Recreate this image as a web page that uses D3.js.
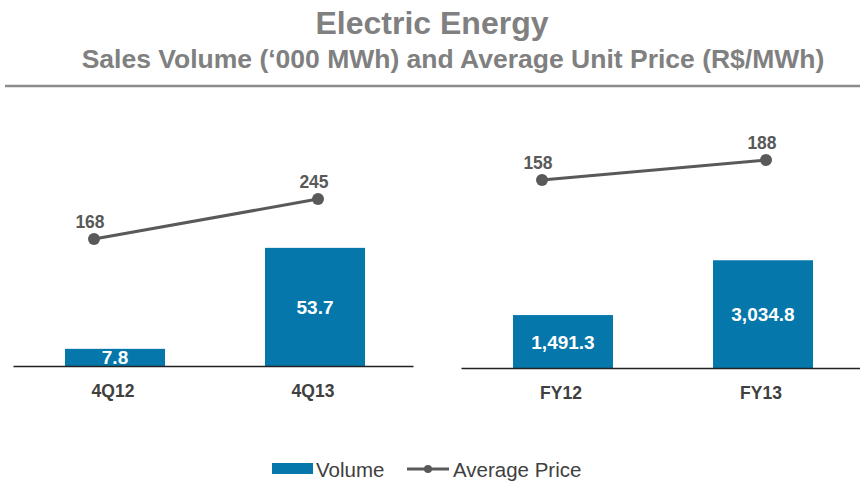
<!DOCTYPE html>
<html>
<head>
<meta charset="utf-8">
<script src="https://cdnjs.cloudflare.com/ajax/libs/d3/7.8.5/d3.min.js"></script>
<style>
  body { margin: 0; background: #fff; }
  svg { display: block; font-family: "Liberation Sans", Arial, sans-serif; }
</style>
</head>
<body>
<div class="plot"></div>
<script>
// quarter panel and full-year panel
let quarterCats = ["4Q12", "4Q13"]
let quarterVolume = [7.8, 53.7]
let quarterPrice = [168, 245]
let yearCats = ["FY12", "FY13"]
let yearVolume = [1491.3, 3034.8]
let yearPrice = [158, 188]

let W = 860, H = 482
let blue = "#0577ab", lineGrey = "#595959", textGrey = "#404040"

let svg = d3.select(".plot").append("svg")
    .attr("width", W)
    .attr("height", H)

// titles
svg.append("text")
    .attr("x", 432).attr("y", 34)
    .attr("text-anchor", "middle")
    .style("font-size", "32px").style("font-weight", "bold")
    .style("fill", "#808080")
    .text("Electric Energy")
svg.append("text")
    .attr("x", 453).attr("y", 68)
    .attr("text-anchor", "middle")
    .style("font-size", "26.5px").style("font-weight", "bold")
    .style("fill", "#808080")
    .text("Sales Volume (\u2018000 MWh) and Average Unit Price (R$/MWh)")
svg.append("line")
    .attr("x1", 5).attr("x2", W).attr("y1", 86).attr("y2", 86)
    .style("stroke", "#8c8c8c").style("stroke-width", 2.5)

function drawPanel(left, base, cats, volume, price, volMax, volTop, priceBase, priceTop, fmt){
  let panelW = 400
  let g = svg.append("g").attr("transform", "translate(" + left + ",0)")
  let x = d3.scaleBand().domain(cats).range([0, panelW])
      .paddingInner(0.5).paddingOuter(0.25)
  let xLine = d3.scalePoint().domain(cats).range([81, 305])
  let yVol = d3.scaleLinear().domain([0, volMax]).range([base, volTop])
  let yPrice = d3.scaleLinear().domain([0, 300]).range([priceBase, priceTop])

  let data = cats.map(function(c, i){ return {cat: c, vol: volume[i], price: price[i]} })

  g.selectAll(".bar").data(data).enter().append("rect")
      .attr("class", "bar")
      .attr("x", function(d){ return x(d.cat) + 2 })
      .attr("width", x.bandwidth())
      .attr("y", function(d){ return yVol(d.vol) })
      .attr("height", function(d){ return base - yVol(d.vol) })
      .style("fill", blue)

  g.selectAll(".barlabel").data(data).enter().append("text")
      .attr("class", "barlabel")
      .attr("x", function(d){ return x(d.cat) + 2 + x.bandwidth() / 2 })
      .attr("y", function(d){
        let mid = (yVol(d.vol) + base) / 2
        return Math.min(mid + 7, base - 1)
      })
      .attr("text-anchor", "middle")
      .style("font-size", "19px").style("font-weight", "bold")
      .style("fill", "#fff")
      .text(function(d){ return fmt(d.vol) })

  let axis = d3.axisBottom(x).tickSize(0).tickPadding(19)
  let ax = g.append("g").attr("transform", "translate(0," + base + ")").call(axis)
  ax.select(".domain").style("stroke", "#222").style("stroke-width", 1.5)
  ax.selectAll("text")
      .style("font-family", "Liberation Sans, Arial, sans-serif")
      .style("font-size", "17.5px").style("font-weight", "bold")
      .style("fill", textGrey)

  let line = d3.line()
      .x(function(d){ return xLine(d.cat) })
      .y(function(d){ return yPrice(d.price) })
  g.append("path").datum(data)
      .attr("d", line)
      .style("fill", "none").style("stroke", lineGrey).style("stroke-width", 3)
  g.selectAll(".dot").data(data).enter().append("circle")
      .attr("cx", function(d){ return xLine(d.cat) })
      .attr("cy", function(d){ return yPrice(d.price) })
      .attr("r", 6)
      .style("fill", lineGrey)
  g.selectAll(".pricelabel").data(data).enter().append("text")
      .attr("x", function(d){ return xLine(d.cat) - 4 })
      .attr("y", function(d){ return yPrice(d.price) - 11 })
      .attr("text-anchor", "middle")
      .style("font-size", "17.5px").style("font-weight", "bold")
      .style("fill", lineGrey)
      .text(function(d){ return d.price })
}

let fmt1 = d3.format(",.1f")
drawPanel(13, 366, quarterCats, quarterVolume, quarterPrice, 100, 146, 326.3, 170.5, fmt1)
drawPanel(461, 368, yearCats, yearVolume, yearPrice, 6000, 155, 285.3, 85.3, fmt1)

// legend
let legend = svg.append("g")
legend.append("rect")
    .attr("x", 272).attr("y", 463).attr("width", 41).attr("height", 11)
    .style("fill", blue)
legend.append("text")
    .attr("x", 316).attr("y", 477)
    .style("font-size", "20.5px").style("fill", textGrey)
    .text("Volume")
legend.append("line")
    .attr("x1", 407).attr("x2", 449).attr("y1", 469).attr("y2", 469)
    .style("stroke", lineGrey).style("stroke-width", 3)
legend.append("circle")
    .attr("cx", 428).attr("cy", 469).attr("r", 4)
    .style("fill", lineGrey)
legend.append("text")
    .attr("x", 453).attr("y", 477)
    .style("font-size", "20.5px").style("fill", textGrey)
    .text("Average Price")
</script>
</body>
</html>
